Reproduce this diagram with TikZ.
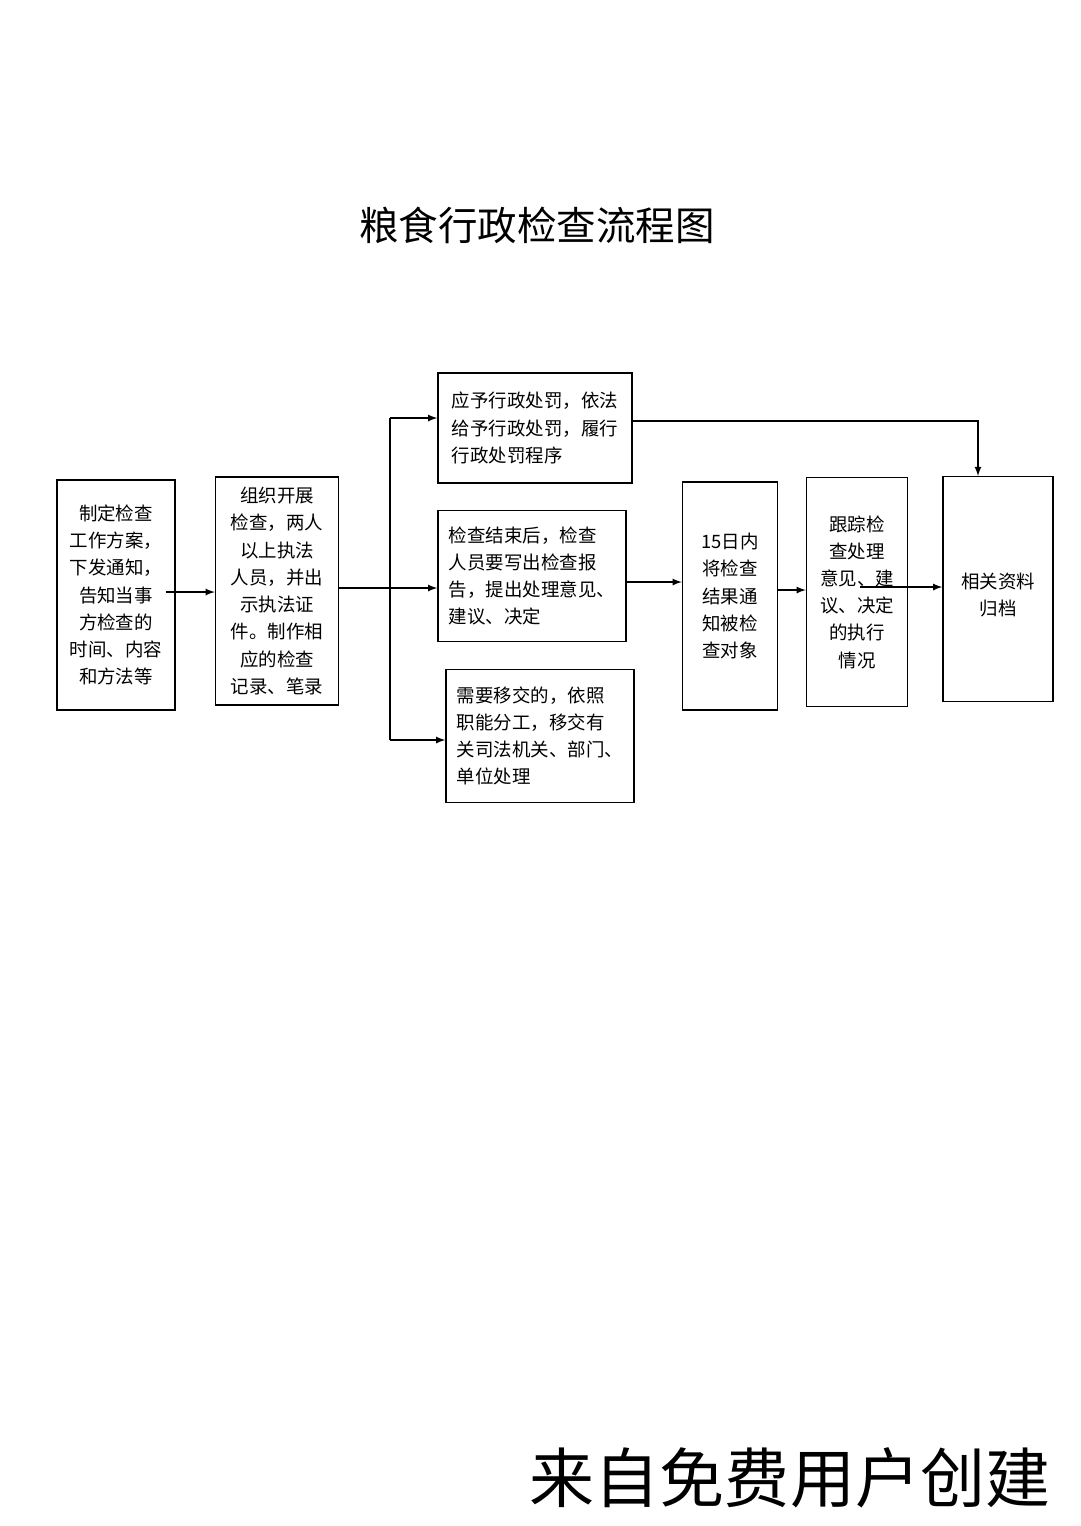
\documentclass[tikz,border=0pt]{standalone}
\usepackage{fontspec}
\setmainfont{Noto Sans CJK SC}
\usetikzlibrary{positioning}
\tikzset{
  flowbox/.style={draw,thick,align=center,font=\fontsize{10.5pt}{15.5pt}\selectfont,inner sep=2pt},
  flowarrow/.style={->,thick,>=latex}
}
\begin{document}
\begin{tikzpicture}[x=0.02cm,y=-0.02cm]
\useasboundingbox (0,0) rectangle (1080,1526);

\node at (537,225) {\fontsize{22.5pt}{26pt}\selectfont 粮食行政检查流程图};

\node[flowbox,minimum width=118*0.02cm,minimum height=230*0.02cm] (plan) at (116,595)
  {制定检查\\工作方案，\\下发通知，\\告知当事\\方检查的\\时间、内容\\和方法等};
\node[flowbox,minimum width=123*0.02cm,minimum height=228*0.02cm] (check) at (277,591)
  {组织开展\\检查，两人\\以上执法\\人员，并出\\示执法证\\件。制作相\\应的检查\\记录、笔录};
\node[flowbox,align=left,minimum width=194*0.02cm,minimum height=110*0.02cm] (punish) at (535,428)
  {应予行政处罚，依法\\给予行政处罚，履行\\行政处罚程序};
\node[flowbox,align=left,minimum width=188*0.02cm,minimum height=131*0.02cm] (report) at (532,576)
  {检查结束后，检查\\人员要写出检查报\\告，提出处理意见、\\建议、决定};
\node[flowbox,align=left,minimum width=188*0.02cm,minimum height=133*0.02cm] (transfer) at (540,736)
  {需要移交的，依照\\职能分工，移交有\\关司法机关、部门、\\单位处理};
\node[flowbox,minimum width=95*0.02cm,minimum height=228*0.02cm] (notify) at (730,596)
  {15日内\\将检查\\结果通\\知被检\\查对象};
\node[flowbox,minimum width=101*0.02cm,minimum height=229*0.02cm] (track) at (857,592)
  {跟踪检\\查处理\\意见、建\\议、决定\\的执行\\情况};
\node[flowbox,minimum width=110*0.02cm,minimum height=225*0.02cm,anchor=north] (archive) at (998,476)
  {};
\node[font=\fontsize{10.5pt}{15.5pt}\selectfont,align=center] (archivetext) at (998,595) {相关资料\\归档};

\coordinate (fork) at (390,588);
\coordinate (forktop) at (390,418);
\coordinate (forkbot) at (390,740);
\coordinate (corner) at (978,421);

\draw[flowarrow] (plan.east) ++(-10,-3) -- (check.west |- 0,592);
\draw[thick] (check.east |- fork) -- (fork);
\draw[thick] (forktop) -- (forkbot);
\draw[flowarrow] (fork) -- (report.west |- fork);
\draw[flowarrow] (forktop) -- (punish.west |- forktop);
\draw[flowarrow] (forkbot) -- (transfer.west |- forkbot);
\draw[flowarrow] (punish.east |- corner) -- (corner) -- (archive.north -| corner);
\draw[flowarrow] (report.east |- 0,582) -- (notify.west |- 0,582);
\draw[flowarrow] (notify.east |- 0,590) -- (track.west |- 0,590);
\draw[flowarrow] (860,587) -- (archive.west |- 0,587);

\node at (790,1478) {\fontsize{37pt}{42pt}\selectfont 来自免费用户创建};
\end{tikzpicture}
\end{document}
